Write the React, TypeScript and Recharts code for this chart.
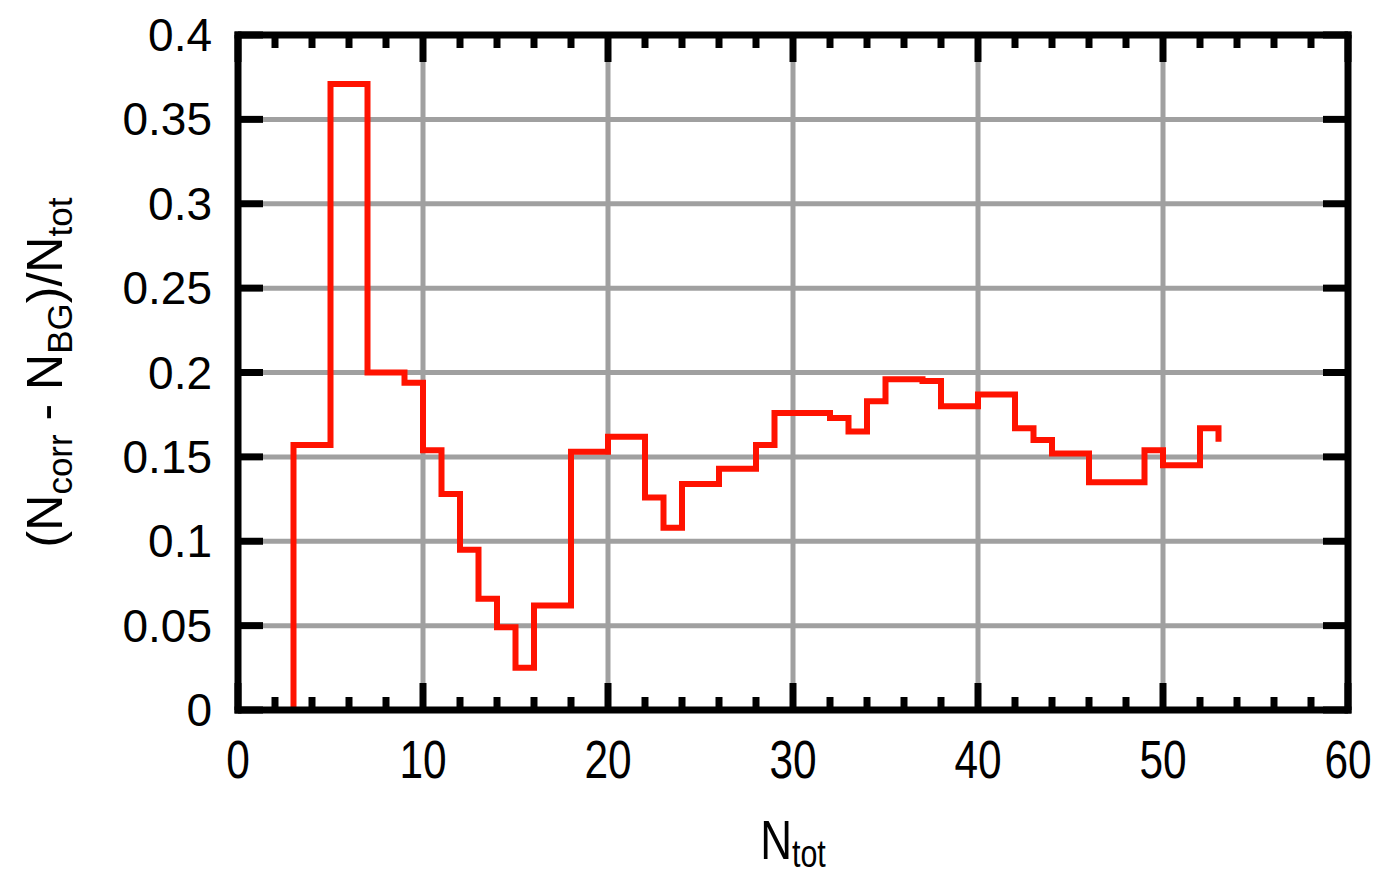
import { CartesianGrid, Line, LineChart, XAxis, YAxis } from "recharts";

// step histogram: value of each bin starts at the given N_tot (gnuplot "steps" style)
const nTot = [3, 3, 5, 7, 9, 10, 11, 12, 13, 14, 15, 16, 18, 20, 22, 23, 24, 26, 28, 29, 32, 33, 34, 35, 37, 38, 40, 42, 43, 44, 46, 49, 50, 52, 53];
const ratio = [0, 0.157, 0.371, 0.2, 0.194, 0.154, 0.128, 0.095, 0.066, 0.049, 0.025, 0.062, 0.153, 0.162, 0.126, 0.108, 0.134, 0.143, 0.157, 0.176, 0.173, 0.165, 0.183, 0.196, 0.195, 0.18, 0.187, 0.167, 0.16, 0.152, 0.135, 0.154, 0.145, 0.167, 0.159];

const xTicks = [0, 2, 4, 6, 8, 10, 12, 14, 16, 18, 20, 22, 24, 26, 28, 30, 32, 34, 36, 38, 40, 42, 44, 46, 48, 50, 52, 54, 56, 58, 60];
const xGrid = [10, 20, 30, 40, 50];
const yTicks = [0, 0.05, 0.1, 0.15, 0.2, 0.25, 0.3, 0.35, 0.4];
const yGrid = [0.05, 0.1, 0.15, 0.2, 0.25, 0.3, 0.35];

const data = nTot.map((n, i) => ({ n, r: ratio[i] }));

const FONT = "'Liberation Sans', Arial, Helvetica, sans-serif";
const AXIS = { stroke: "#000", strokeWidth: 7, strokeLinecap: "square" as const };

const isMajor = (v: number) => v % 10 === 0;

function XBottomTick({ x, y, payload }: any) {
  const v = payload.value;
  return (
    <g>
      <line x1={x} x2={x} y1={y} y2={y - (isMajor(v) ? 27 : 13)} stroke="#000" strokeWidth={7} />
      {isMajor(v) && (
        <text transform={`translate(${x},${y + 68}) scale(0.8,1)`} textAnchor="middle" fontSize={53} fontFamily={FONT} fill="#000">
          {v}
        </text>
      )}
    </g>
  );
}

function XTopTick({ x, y, payload }: any) {
  const v = payload.value;
  return <line x1={x} x2={x} y1={y} y2={y + (isMajor(v) ? 27 : 13)} stroke="#000" strokeWidth={7} />;
}

function YLeftTick({ x, y, payload }: any) {
  return (
    <g>
      <line x1={x} x2={x + 25} y1={y} y2={y} stroke="#000" strokeWidth={7} />
      <text x={x - 26} y={y + 16} textAnchor="end" fontSize={46} fontFamily={FONT} fill="#000">
        {String(payload.value)}
      </text>
    </g>
  );
}

function YRightTick({ x, y }: any) {
  return <line x1={x} x2={x - 25} y1={y} y2={y} stroke="#000" strokeWidth={7} />;
}

function YTitle({ viewBox }: any) {
  const cx = viewBox.x - 56;
  const cy = viewBox.y + viewBox.height / 2;
  return (
    <text transform={`translate(${cx},${cy}) rotate(-90)`} textAnchor="middle" fontSize={50} fontFamily={FONT} fill="#000">
      (N<tspan fontSize={35} dy={10}>corr</tspan>
      <tspan dy={-10}> - N</tspan>
      <tspan fontSize={35} dy={10}>BG</tspan>
      <tspan dy={-10}>)/N</tspan>
      <tspan fontSize={35} dy={10}>tot</tspan>
    </text>
  );
}

function XTitle({ viewBox }: any) {
  const cx = viewBox.x + viewBox.width / 2;
  const by = viewBox.y + 149;
  return (
    <text transform={`translate(${cx},${by}) scale(0.8,1)`} textAnchor="middle" fontSize={55} fontFamily={FONT} fill="#000">
      N<tspan fontSize={38} dy={8}>tot</tspan>
    </text>
  );
}

export default function App() {
  return (
    <div style={{ position: "absolute", left: 0, top: 0, width: 1381, height: 874, background: "#fff" }}>
      <LineChart width={1381} height={874} data={data} margin={{ top: 34, right: 32, bottom: 64, left: 118 }}>
        <CartesianGrid stroke="#a0a0a0" strokeWidth={5} verticalValues={xGrid} horizontalValues={yGrid} />
        <XAxis
          dataKey="n"
          type="number"
          domain={[0, 60]}
          ticks={xTicks}
          interval={0}
          height={100}
          tickSize={0}
          tickMargin={0}
          axisLine={AXIS}
          tickLine={false}
          tick={<XBottomTick />}
          label={<XTitle />}
        />
        <XAxis
          xAxisId="top"
          dataKey="n"
          orientation="top"
          type="number"
          domain={[0, 60]}
          ticks={xTicks}
          interval={0}
          height={1}
          tickSize={0}
          tickMargin={0}
          axisLine={AXIS}
          tickLine={false}
          tick={<XTopTick />}
        />
        <YAxis
          type="number"
          domain={[0, 0.4]}
          ticks={yTicks}
          interval={0}
          width={120}
          tickSize={0}
          tickMargin={0}
          axisLine={AXIS}
          tickLine={false}
          tick={<YLeftTick />}
          label={<YTitle />}
        />
        <YAxis
          yAxisId="right"
          orientation="right"
          type="number"
          domain={[0, 0.4]}
          ticks={yTicks}
          interval={0}
          width={1}
          tickSize={0}
          tickMargin={0}
          axisLine={AXIS}
          tickLine={false}
          tick={<YRightTick />}
        />
        {/* invisible series so the mirrored top/right axes get drawn */}
        <Line
          xAxisId="top"
          yAxisId="right"
          dataKey="r"
          stroke="none"
          dot={false}
          activeDot={false}
          legendType="none"
          isAnimationActive={false}
        />
        <Line
          dataKey="r"
          type="stepAfter"
          stroke="#ff1200"
          strokeWidth={6}
          strokeLinejoin="miter"
          dot={false}
          activeDot={false}
          isAnimationActive={false}
        />
      </LineChart>
    </div>
  );
}
